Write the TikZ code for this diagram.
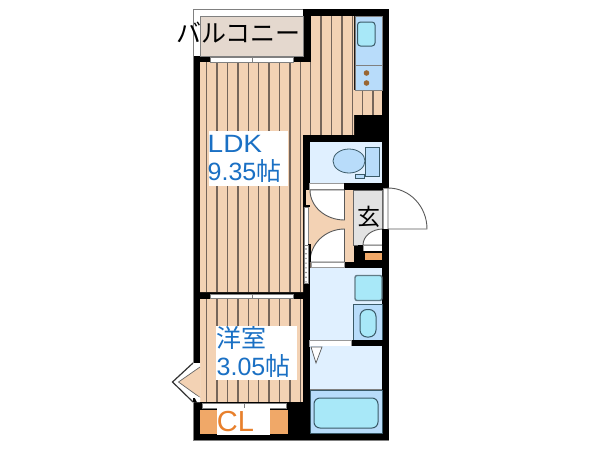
\documentclass[tikz,border=0pt]{standalone}
\usepackage{fontspec}
\setmainfont{Liberation Sans}
\newfontfamily\cjk{Noto Sans CJK JP}
\definecolor{peach}{HTML}{F3D2B4}
\definecolor{stripe}{HTML}{75655A}
\definecolor{wet}{HTML}{E0F0FF}
\definecolor{fixt}{HTML}{B8DCFA}
\definecolor{cyanfix}{HTML}{A8E8F8}
\definecolor{edge}{HTML}{3A5A68}
\definecolor{beige}{HTML}{E4D8CE}
\definecolor{orangefix}{HTML}{F0A868}
\definecolor{hallgray}{HTML}{E2E2E2}
\definecolor{labelblue}{HTML}{1A70C4}
\definecolor{clorange}{HTML}{E8802C}
\tikzset{
  wall/.style={fill=black,draw=none},
  floorarea/.style={fill=peach,draw=none},
  wetarea/.style={fill=wet,draw=none},
  panel/.style={fill=white,draw=gray!80,line width=.7pt},
  doorarc/.style={fill=white,draw=black!65,line width=.9pt},
  fixture/.style={fill=fixt,draw=edge,line width=.8pt},
  tub/.style={fill=cyanfix,draw=edge,line width=1pt},
  stripeline/.style={draw=stripe,line width=1.3pt},
  sash/.style={fill=white,draw=gray,line width=.6pt},
  roomlabel/.style={text=labelblue,font=\fontsize{25}{28.5}\selectfont,align=left,inner sep=0pt},
}
\begin{document}
\begin{tikzpicture}[x=1pt,y=-1pt]
\useasboundingbox (0,0) rectangle (600,450);
\fill[white] (0,0) rectangle (600,450);
% building mass
\fill[wall] (303,9) rectangle (389,440);
\fill[wall] (193,56) rectangle (310,440);
% balcony
\fill[white] (193,9) rectangle (303,56);
\fill[beige,draw=gray,line width=.6pt] (200,16) rectangle (303,56);
\draw[gray,line width=.8pt] (303,9) -- (193,9) -- (193,440) -- (389,440);
% floors
\fill[floorarea] (200,62) -- (311,62) -- (311,16) -- (354,16) -- (354,135) -- (303,135) -- (303,292) -- (200,292) -- cycle;
\fill[floorarea] (200,299) rectangle (303,402);
\fill[floorarea] (354,90) rectangle (382,115);
\foreach \i in {0,...,10} {
  \draw[stripeline] ({206.7+10.4*\i},62) -- ({206.7+10.4*\i},292);
}
\foreach \i in {0,...,9} {
  \draw[stripeline] ({206.7+10.4*\i},299) -- ({206.7+10.4*\i},402);
}
\fill[wall] (303,135) rectangle (354,143);
\foreach \i in {11,...,14} {
  \draw[stripeline] ({206.7+10.4*\i},16) -- ({206.7+10.4*\i},135);
}
\foreach \i in {15,16} {
  \draw[stripeline] ({206.7+10.4*\i},90) -- ({206.7+10.4*\i},115);
}
\fill[wall] (303,135) rectangle (311,207);
% windows
\fill[sash] (210,57) rectangle (252,62);
\fill[sash] (252,57.5) rectangle (293,62);
\fill[sash] (210,294) rectangle (252,298);
\fill[sash] (252,294) rectangle (293,298);
\fill[sash] (202,403) rectangle (244,408);
\fill[sash] (244,403) rectangle (286,408);
% closet
\fill[orangefix] (200,410) rectangle (288,434);
\node[fill=white,minimum width=53pt,minimum height=27pt,inner sep=0pt] (clbox) at (243.5,421.5) {};
\node[inner sep=0pt,text=clorange,font=\fontsize{29}{31}\selectfont] (cl) at (235.5,421.5) {CL};
% bay window
\fill[white] (193,363) -- (172,382) -- (193,402) -- (200,402) -- (200,363) -- cycle;
\draw[black!80,line width=1.2pt] (193,363) -- (172.5,382) -- (193,402);
\fill[floorarea] (200,367) -- (178.5,382) -- (200,397.5) -- cycle;
\draw[black!60,line width=.7pt] (200,367) -- (178.5,382) -- (200,397.5);
\fill[wall] (193,397.5) -- (200,397.5) -- (200,402) -- (193,402) -- cycle;
\fill[white] (193,394) -- (200,397.5) -- (200,402) -- (197,402) -- cycle;
% kitchen
\fill[fixt,draw=gray,line width=.5pt] (355,16) rectangle (382,65);
\fill[fixt,draw=gray,line width=.5pt] (355,65) rectangle (382,90);
\draw[tub,fill=cyanfix,rounded corners=3pt] (357.5,22) rectangle (375,46);
\fill[brown!80!black] (366.5,73) circle (2.8pt) (366.5,83) circle (2.8pt);
% toilet
\fill[wetarea] (310,142) rectangle (382,183);
\draw[fixture] (365,147) rectangle (379,176);
\draw[fixture] (355,174) rectangle (364,178.5);
\draw[fixture] (349,161) ellipse (16pt and 12pt);
% hall
\fill[floorarea] (306,190) rectangle (354,262);
\fill[hallgray,draw=black!60,line width=.6pt] (353.5,190) rectangle (382,245);
\fill[panel] (309,183) rectangle (344,189);
\fill[wall] (344,183) rectangle (389,190);
\fill[panel] (383,188) rectangle (388,229);
\draw[doorarc] (344.5,190) -- (310,190) arc (180:270:34.5pt and 30pt) -- cycle;
\draw[doorarc] (344.5,262) -- (344.5,229) arc (90:180:34.5pt and 33pt) -- cycle;
\fill[wall] (303,205) rectangle (310,207);
\fill[white,draw=gray,line width=.9pt] (304.5,207) rectangle (308,245);
\fill[wall] (308,244) rectangle (311,262);
\fill[white,draw=gray,line width=.5pt] (304,245) rectangle (308,283);
\foreach \i in {0,...,7} {\fill[gray] (306,{249+\i*4.7}) circle (.8pt);}
\fill[wall] (344,262) rectangle (389,268);
\fill[panel] (311,262) rectangle (344,267);
% genkan small door and shelf
\fill[wall] (358,245) rectangle (363,263);
\draw[doorarc] (383,245) -- (363,245) arc (180:90:20pt and 16pt) -- cycle;
\fill[panel] (363,245) rectangle (383,251);
\fill[wall] (363,251) rectangle (383,262);
\fill[orangefix] (365,253) rectangle (382,260);
\fill[wall] (382,229) rectangle (389,262);
% entry door
\draw[doorarc] (388,229) -- (388,188) arc (90:0:39pt and 41pt) -- cycle;
\node[font=\fontsize{23}{25}\selectfont\cjk,inner sep=0pt] (genkan) at (369,216.5) {玄};
% bath
\fill[wetarea] (310,268) rectangle (382,340);
\draw[fill=cyanfix,draw=edge!80,line width=1.4pt,rounded corners=2pt] (355,275.5) -- (382,275.5) -- (382,300.5) -- (355,300.5) -- cycle;
\draw[fixture] (353,304) rectangle (382,340);
\draw[tub,fill=cyanfix,rounded corners=7pt] (360,309.5) rectangle (376,337);
\fill[wall] (351,340) rectangle (389,346);
\fill[panel] (309,340) rectangle (351.5,346);
\fill[wetarea] (310,346) rectangle (382,389);
\fill[white,draw=black!65,line width=.7pt] (311,347) -- (322,347) -- (316,363) -- cycle;
\fill[fixture] (310,390) rectangle (382,433);
\draw[gray,line width=.8pt] (310,389.5) -- (382,389.5);
\draw[tub,rounded corners=6pt] (314,398) rectangle (378,428);
% labels
\node[fill=white,minimum width=79pt,minimum height=55pt,inner sep=0pt] (ldkbox) at (248.5,158.5) {};
\node[roomlabel,anchor=north west] (ldk) at (207.5,135) {\scalebox{1.12}[1]{LDK}\\9.35{\cjk 帖}};
\node[fill=white,minimum width=81pt,minimum height=54pt,inner sep=0pt] (yobox) at (256.5,353) {};
\node[roomlabel,anchor=north west] (yo) at (216.5,326) {{\cjk 洋室}\\3.05{\cjk 帖}};
\node[anchor=west,inner sep=0pt,font=\fontsize{25}{27}\selectfont\cjk] (bal) at (176,33) {バルコニー};
\end{tikzpicture}
\end{document}
